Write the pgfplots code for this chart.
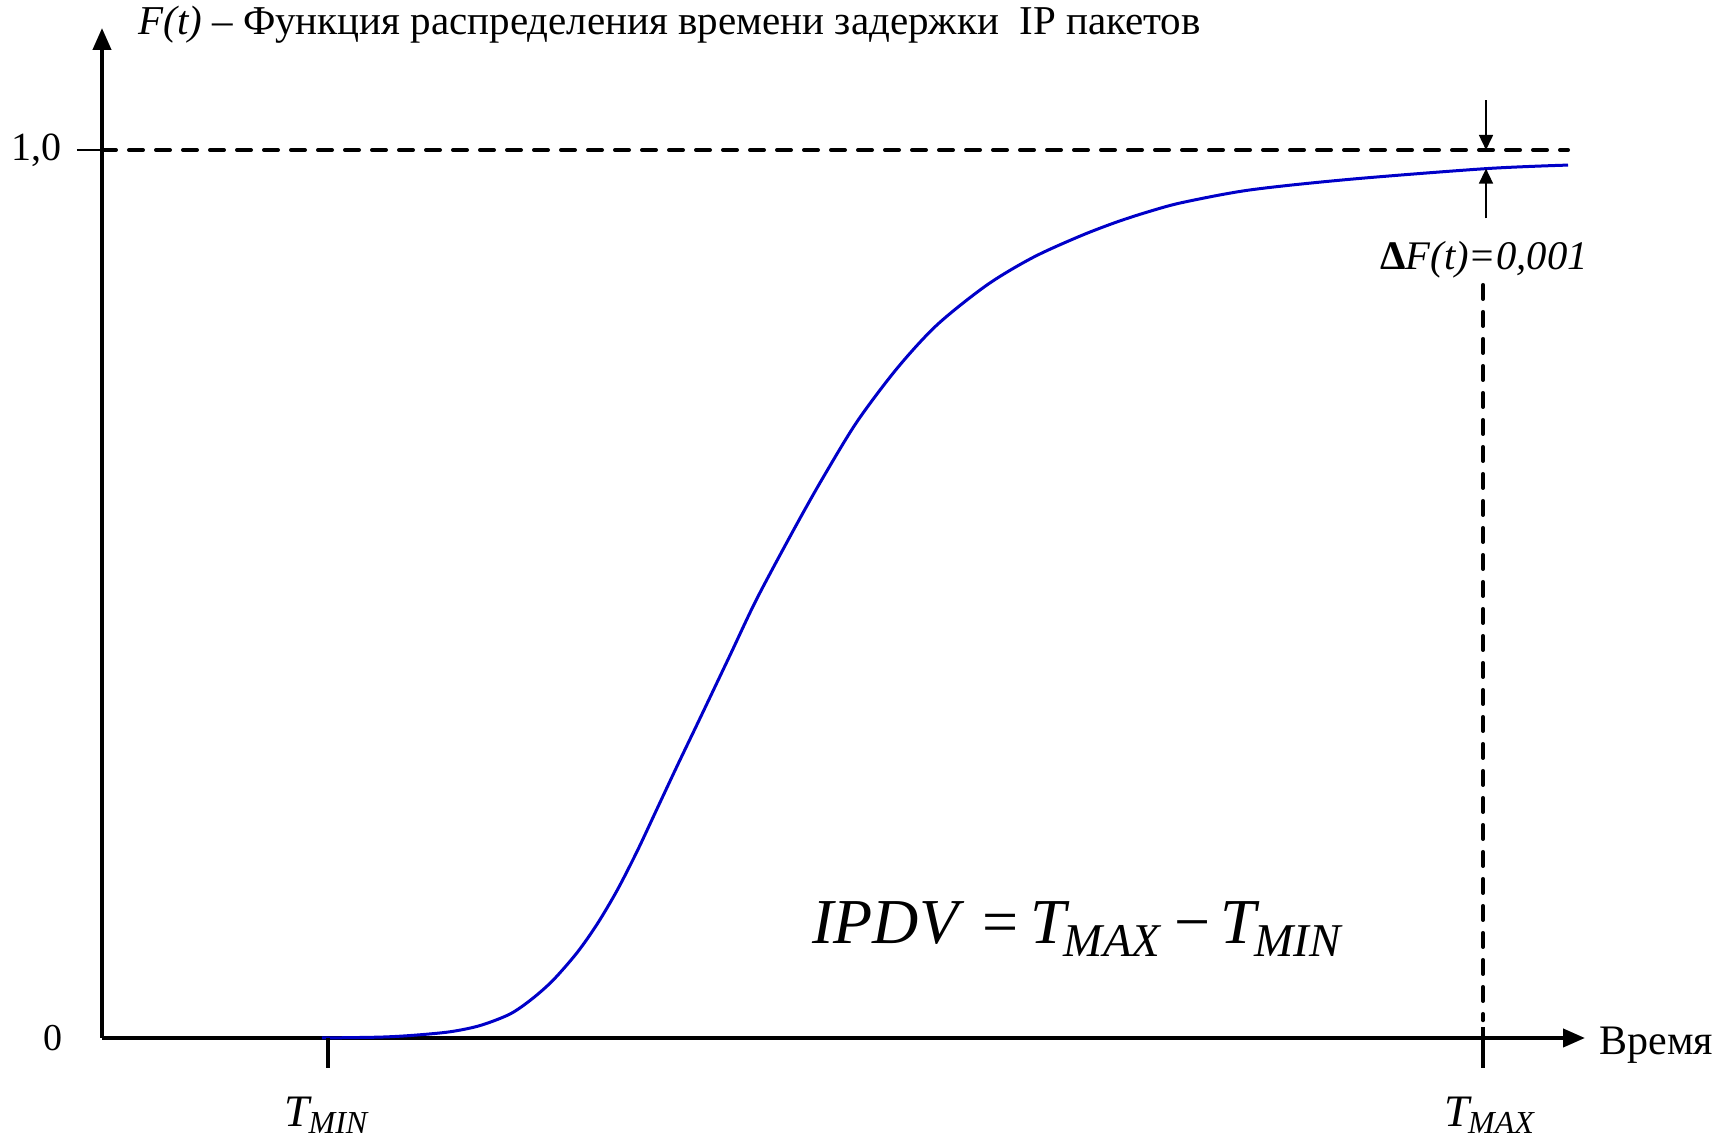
\documentclass[border=0pt]{standalone}
\usepackage{fontspec}
\setmainfont{Liberation Serif}
\usepackage{pgfplots}
\pgfplotsset{compat=1.18}
\usetikzlibrary{arrows.meta}
\definecolor{curveblue}{RGB}{0,0,200}
\newcommand\TT[1]{{\fontsize{22.5}{27}\selectfont\itshape T\kern-0.5pt\raisebox{-3.5pt}{\fontsize{16}{18}\selectfont #1}}}
\newcommand\BT[1]{{\itshape T\kern-1pt\raisebox{-6.5pt}{\fontsize{23.5}{28}\selectfont #1}}}

\pgfplotstableread{
t F
322 0.000
380 0.001
413 0.003
450 0.007
480 0.014
510 0.027
532 0.044
553 0.065
577 0.096
597 0.128
617 0.166
637 0.210
657 0.258
677 0.306
700 0.360
730 0.431
757 0.495
795 0.575
823 0.631
857 0.694
897 0.754
937 0.803
987 0.848
1033 0.879
1080 0.903
1117 0.919
1150 0.931
1183 0.941
1250 0.955
1350 0.967
1486 0.979
1568 0.983
}\cdf

\begin{document}
\begin{tikzpicture}
\begin{axis}[
  x=0.5pt, y=444pt,
  xmin=102, xmax=1585, ymin=0, ymax=1.1374,
  axis lines=left,
  enlargelimits=false,
  axis line style={line width=2pt, -{Triangle[length=11pt,width=9pt]}},
  xtick=\empty, ytick=\empty,
  clip=false,
]
\path (axis cs:0,1.1689) rectangle (axis cs:1727,-0.1137);

% dashed 1.0 line
\draw[line width=2pt, dash pattern=on 7pt off 6.5pt, line cap=round] (axis cs:102,1.0) -- (axis cs:1568,1.0);
% vertical dashed at T_MAX
\draw[line width=2pt, dash pattern=on 7pt off 6.5pt, line cap=round] (axis cs:1483,0.848) -- (axis cs:1483,0.02);

\addplot[curveblue, line width=1.5pt, smooth, tension=0.5] table[x=t,y=F] {\cdf};

% ticks
\draw[line width=0.8pt] (axis cs:77,1.0) -- (axis cs:102,1.0);
\draw[line width=2pt] (axis cs:328,0) -- (axis cs:328,-0.034);
\draw[line width=2pt] (axis cs:1483,0.012) -- (axis cs:1483,-0.034);

% tick labels
\node[anchor=east, inner sep=0pt, font=\fontsize{20}{24}\selectfont] at (axis cs:62,1.0) {1,0};
\node[anchor=east, inner sep=0pt, font=\fontsize{19}{24}\selectfont] at (axis cs:63,0) {0};
\node[anchor=base, inner sep=0pt] at (axis cs:326,-0.100) {\TT{MIN}};
\node[anchor=base, inner sep=0pt] at (axis cs:1489,-0.100) {\TT{MAX}};
\node[anchor=base west, inner sep=0pt, font=\fontsize{21}{24}\selectfont] at (axis cs:1599,-0.019) {Время};

% title
\node[anchor=base west, inner sep=0pt, font=\fontsize{20.5}{24}\selectfont] at (axis cs:138,1.1306) {\textit{F(t)} – Функция распределения времени задержки \ IP пакетов};

% delta arrows
\draw[line width=0.8pt, -{Triangle[length=7.5pt,width=7pt]}] (axis cs:1486,1.056) -- (axis cs:1486,1.0);
\draw[line width=0.8pt, -{Triangle[length=7.5pt,width=7pt]}] (axis cs:1486,0.923) -- (axis cs:1486,0.979);
\node[anchor=base, inner sep=0pt, font=\fontsize{20.3}{24}\selectfont] at (axis cs:1484,0.865) {\textbf{Δ}\textit{F(t)=0,001}};

% formula
\node[anchor=base west, inner sep=0pt, font=\fontsize{32}{40}\selectfont] at (axis cs:812,0.106) {\textit{IPDV}\kern9pt=\kern6pt\BT{MAX}\kern7pt−\kern5pt\BT{MIN}};
\end{axis}
\end{tikzpicture}
\end{document}
